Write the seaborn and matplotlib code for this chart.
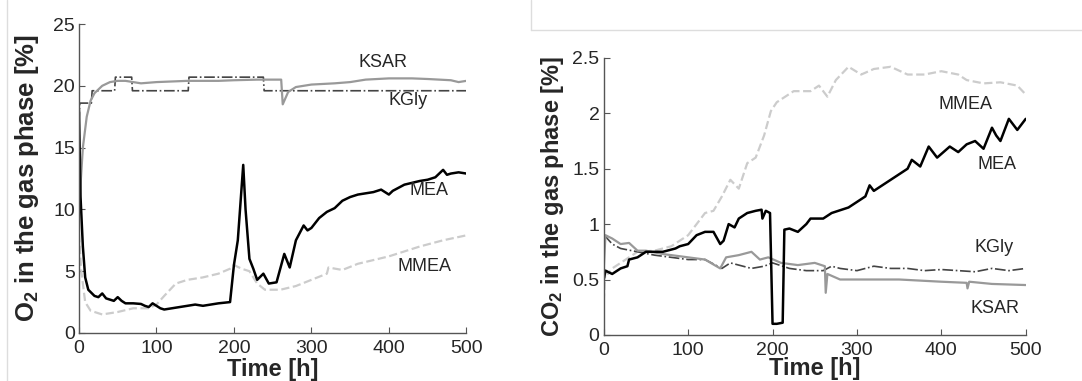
import numpy as np
import pandas as pd
import matplotlib
matplotlib.use("Agg")
import matplotlib.pyplot as plt
import seaborn as sns

sns.set_style("ticks")
plt.rcParams['font.family'] = ['Liberation Sans', 'DejaVu Sans']
plt.rcParams['mathtext.fontset'] = 'custom'
plt.rcParams['mathtext.rm'] = 'Liberation Sans'
plt.rcParams['mathtext.bf'] = 'Liberation Sans:bold'

# ---- O2 panel data (time [h], O2 [%]) ----
o2_ksar_t = [0, 2, 5, 10, 15, 20, 30, 40, 50, 60, 70, 80, 100, 120, 140, 150, 180, 200, 230,
             250, 261, 263, 270, 280, 300, 330, 350, 370, 400, 430, 450, 480, 490, 500]
o2_ksar_v = [10, 12, 15, 17.5, 18.8, 19.4, 20.0, 20.3, 20.4, 20.4, 20.3, 20.2, 20.3, 20.35, 20.4,
             20.4, 20.4, 20.45, 20.5, 20.5, 20.5, 18.5, 19.5, 19.9, 20.1, 20.2, 20.3, 20.5, 20.6,
             20.6, 20.55, 20.45, 20.3, 20.4]

o2_kgly_t = [0, 1, 16, 17, 46, 47, 68, 69, 141, 142, 238, 239, 500]
o2_kgly_v = [17.0, 18.6, 18.6, 19.6, 19.6, 20.7, 20.7, 19.6, 19.6, 20.7, 20.7, 19.6, 19.6]

o2_mea_t = [0, 2, 5, 8, 12, 20, 25, 30, 35, 40, 45, 50, 55, 60, 70, 80, 85, 90, 95, 100, 105,
            110, 120, 130, 140, 150, 160, 170, 180, 195, 200, 205, 212, 215, 220, 225, 230, 238,
            245, 255, 265, 272, 280, 290, 295, 300, 310, 320, 330, 340, 350, 360, 370, 380, 390,
            400, 405, 420, 440, 450, 460, 470, 475, 480, 490, 500]
o2_mea_v = [18, 11, 7, 4.5, 3.5, 3.0, 2.9, 3.2, 2.8, 2.7, 2.6, 2.9, 2.6, 2.4, 2.4, 2.35, 2.2,
            2.1, 2.4, 2.2, 2.0, 1.9, 2.0, 2.1, 2.2, 2.3, 2.2, 2.3, 2.4, 2.5, 5.5, 7.5, 13.6, 10,
            6, 5.2, 4.3, 4.8, 4.0, 4.1, 6.4, 5.3, 7.5, 8.7, 8.3, 8.5, 9.3, 9.8, 10.1, 10.7, 11.0,
            11.2, 11.3, 11.4, 11.6, 11.2, 11.5, 12.0, 12.3, 12.4, 12.6, 13.2, 12.8, 12.9, 13.0,
            12.9]

o2_mmea_t = [0, 3, 8, 15, 30, 50, 70, 90, 100, 110, 125, 140, 160, 180, 195, 200, 210, 220, 230,
             240, 260, 280, 300, 320, 322, 340, 360, 400, 440, 470, 500]
o2_mmea_v = [8, 5, 2.5, 1.8, 1.5, 1.7, 2.0, 2.0, 2.3, 3.0, 4.0, 4.3, 4.5, 4.8, 5.2, 5.5, 5.2,
             5.0, 4.0, 3.5, 3.5, 3.8, 4.3, 4.8, 5.3, 5.1, 5.6, 6.2, 7.0, 7.5, 7.9]

# ---- CO2 panel data (time [h], CO2 [%]) ----
co2_mmea_t = [0, 2, 5, 10, 20, 40, 60, 80, 100, 110, 120, 130, 140, 150, 160, 170, 180, 190, 198,
              205, 215, 225, 235, 245, 255, 265, 275, 290, 305, 320, 340, 360, 380, 400, 420,
              430, 450, 470, 490, 500]
co2_mmea_v = [0.3, 0.6, 0.55, 0.6, 0.65, 0.75, 0.76, 0.8, 0.9, 1.0, 1.1, 1.12, 1.25, 1.4, 1.32,
              1.55, 1.6, 1.8, 2.02, 2.1, 2.15, 2.2, 2.2, 2.2, 2.25, 2.15, 2.3, 2.42, 2.35, 2.4,
              2.42, 2.35, 2.35, 2.38, 2.35, 2.3, 2.27, 2.28, 2.25, 2.17]

co2_mea_t = [0, 2, 10, 20, 28, 30, 40, 50, 70, 85, 90, 100, 110, 120, 130, 138, 142, 148, 155,
             160, 170, 180, 187, 188, 192, 197, 200, 205, 212, 214, 220, 230, 240, 245, 260, 270,
             290, 300, 310, 315, 320, 330, 340, 350, 360, 365, 375, 385, 395, 410, 420, 430,
             440, 450, 460, 465, 470, 480, 490, 500]
co2_mea_v = [0.5, 0.58, 0.55, 0.6, 0.62, 0.68, 0.7, 0.75, 0.75, 0.78, 0.8, 0.82, 0.9, 0.93,
             0.93, 0.82, 0.85, 1.0, 0.97, 1.05, 1.1, 1.12, 1.13, 1.05, 1.12, 1.1, 0.1, 0.1, 0.11,
             0.95, 0.96, 0.93, 1.0, 1.05, 1.05, 1.1, 1.15, 1.2, 1.25, 1.35, 1.3, 1.35, 1.4, 1.45,
             1.5, 1.58, 1.52, 1.7, 1.6, 1.7, 1.65, 1.72, 1.75, 1.68, 1.87, 1.8, 1.75, 1.95, 1.85,
             1.95]

co2_ksar_t = [0, 2, 10, 20, 30, 40, 50, 70, 100, 120, 138, 145, 160, 175, 185, 195, 210, 230,
              250, 262, 263, 265, 280, 300, 350, 400, 430, 431, 433, 460, 500]
co2_ksar_v = [0.6, 0.9, 0.87, 0.82, 0.83, 0.76, 0.76, 0.73, 0.7, 0.68, 0.6, 0.7, 0.72, 0.75,
              0.68, 0.7, 0.65, 0.63, 0.65, 0.62, 0.38, 0.55, 0.5, 0.5, 0.5, 0.48, 0.47, 0.42,
              0.48, 0.46, 0.45]

co2_kgly_t = [0, 3, 10, 20, 40, 60, 80, 100, 120, 140, 150, 160, 175, 190, 200, 220, 240, 260,
              270, 280, 300, 320, 340, 360, 380, 400, 440, 460, 480, 500]
co2_kgly_v = [0.9, 0.88, 0.82, 0.78, 0.75, 0.72, 0.7, 0.68, 0.68, 0.6, 0.65, 0.63, 0.6, 0.62,
              0.65, 0.6, 0.58, 0.58, 0.62, 0.6, 0.58, 0.62, 0.6, 0.6, 0.58, 0.59, 0.57, 0.6,
              0.58, 0.6]

fig = plt.figure(figsize=(10.82, 3.81), dpi=100)
ax1 = fig.add_axes([0.073, 0.126, 0.358, 0.811])
ax2 = fig.add_axes([0.558, 0.121, 0.390, 0.727])

styles = {
    'KSAR': dict(color='#999999', linestyle='-', linewidth=1.6),
    'KGly': dict(color='#444444', linestyle='-.', linewidth=1.2),
    'MEA': dict(color='black', linestyle='-', linewidth=1.8),
    'MMEA': dict(color='#cccccc', linestyle='--', linewidth=1.6),
}

for name, t, v in [('MMEA', o2_mmea_t, o2_mmea_v), ('KGly', o2_kgly_t, o2_kgly_v),
                   ('KSAR', o2_ksar_t, o2_ksar_v), ('MEA', o2_mea_t, o2_mea_v)]:
    sns.lineplot(x=t, y=v, ax=ax1, **styles[name])

for name, t, v in [('MMEA', co2_mmea_t, co2_mmea_v), ('KGly', co2_kgly_t, co2_kgly_v),
                   ('KSAR', co2_ksar_t, co2_ksar_v), ('MEA', co2_mea_t, co2_mea_v)]:
    sns.lineplot(x=t, y=v, ax=ax2, **styles[name])

ax1.set_xlim(0, 500)
ax1.set_ylim(0, 25)
ax1.set_yticks([0, 5, 10, 15, 20, 25])
ax2.set_xlim(0, 500)
ax2.set_ylim(0, 2.5)
ax2.set_yticks([0, 0.5, 1, 1.5, 2, 2.5])
ax2.set_yticklabels(['0', '0.5', '1', '1.5', '2', '2.5'])

for ax in (ax1, ax2):
    ax.set_xticks([0, 100, 200, 300, 400, 500])
    sns.despine(ax=ax)
    for s in ('left', 'bottom'):
        ax.spines[s].set_color('#555555')
        ax.spines[s].set_linewidth(1.0)
    ax.tick_params(direction='in', length=4, width=0.8, color='#555555',
                   labelsize=14, pad=3)
    ax.tick_params(axis='x', pad=5)

ax1.set_xlabel('Time [h]', fontsize=17, fontweight='bold', labelpad=1)
ax2.set_xlabel('Time [h]', fontsize=17, fontweight='bold', labelpad=-1)

ax1.set_ylabel(r'$\mathbf{O_2}$ in the gas phase [%]', fontsize=18.5, fontweight='bold', labelpad=9)
ax2.set_ylabel(r'$\mathbf{CO_2}$ in the gas phase [%]', fontsize=17, fontweight='bold', labelpad=5)

lab = dict(fontsize=13, ha='center', va='center')
ax1.text(393, 21.9, 'KSAR', **lab)
ax1.text(425, 18.8, 'KGly', **lab)
ax1.text(452, 11.5, 'MEA', **lab)
ax1.text(446, 5.4, 'MMEA', **lab)
ax2.text(429, 2.08, 'MMEA', **lab)
ax2.text(466, 1.54, 'MEA', **lab)
ax2.text(462, 0.79, 'KGly', **lab)
ax2.text(463, 0.24, 'KSAR', **lab)

# light panel borders from the original screenshot
fig.add_artist(plt.Line2D([7 / 1082, 7 / 1082], [0, 1], color='#dddddd', lw=1))
fig.add_artist(plt.Line2D([531 / 1082, 531 / 1082], [1, 1 - 30 / 381], color='#dddddd', lw=1))
fig.add_artist(plt.Line2D([531 / 1082, 1], [1 - 30 / 381, 1 - 30 / 381], color='#dddddd', lw=1))

fig.savefig('out.png', dpi=100)
